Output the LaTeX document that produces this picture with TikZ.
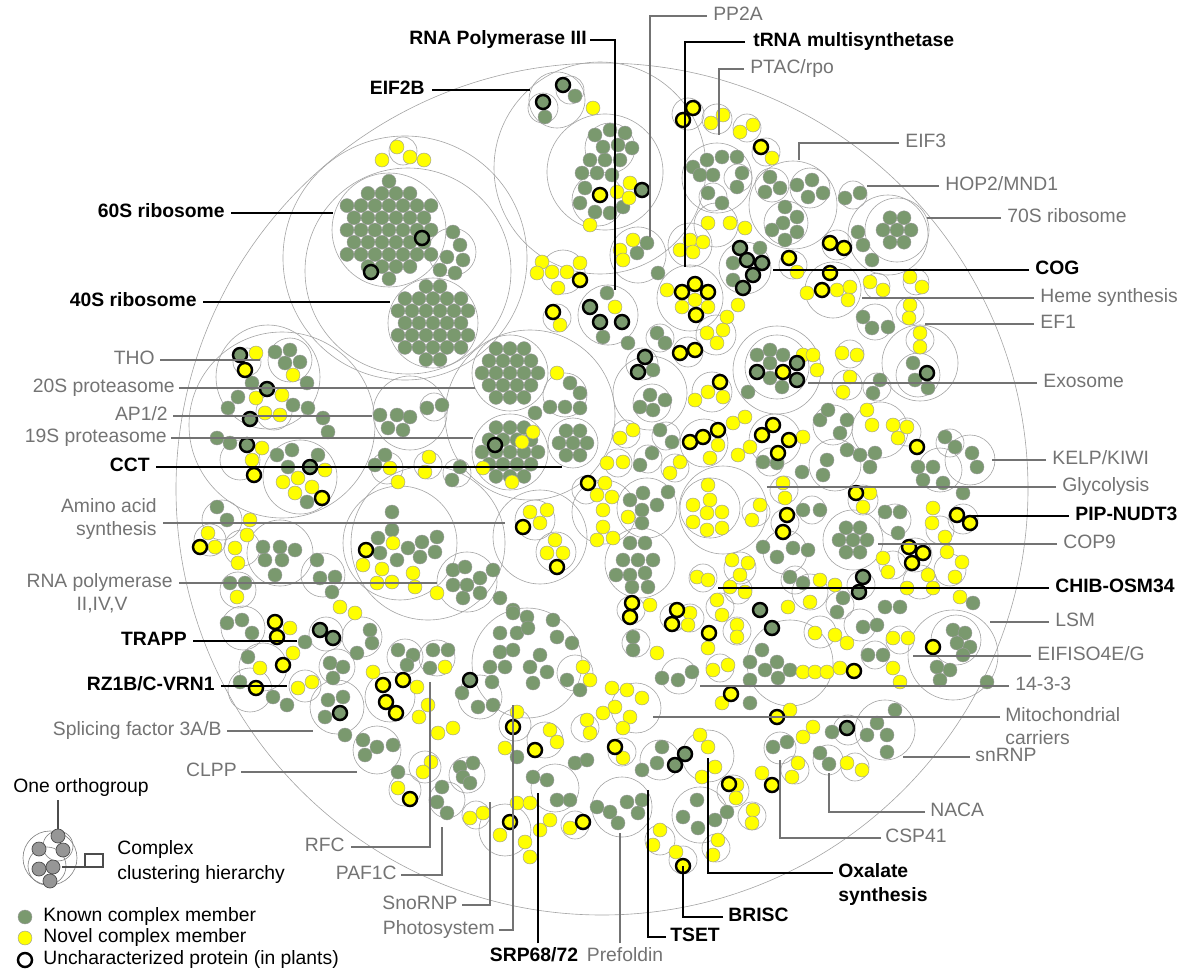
\documentclass[tikz,border=0pt]{standalone}
\usepackage{fontspec}
\setmainfont{Liberation Sans}
\definecolor{kg}{RGB}{122,153,110}
\definecolor{ky}{RGB}{255,255,0}
\definecolor{lg}{RGB}{115,115,115}
\definecolor{cg}{RGB}{165,165,165}
\definecolor{lgd}{RGB}{150,150,150}
\tikzset{
 gd/.style={fill=kg,draw=gray!80,line width=0.25pt},
 yd/.style={fill=ky,draw=gray!80,line width=0.25pt},
 ugd/.style={fill=kg,draw=black,line width=1.4pt},
 uyd/.style={fill=ky,draw=black,line width=1.4pt},
 cl/.style={draw=cg,line width=0.35pt},
 bl/.style={draw=black,line width=0.85pt},
 gl/.style={draw=lg,line width=0.75pt},
 bt/.style={font=\fontsize{11}{13}\selectfont\bfseries,text=black,inner sep=0pt},
 gt/.style={font=\fontsize{11}{13}\selectfont,text=lg,inner sep=0pt},
 lt/.style={font=\fontsize{11}{13}\selectfont,text=black,inner sep=0pt},
}
\newcommand\putg[1]{\foreach \x/\y in {#1}{\filldraw[gd] (\x,\y) circle[radius=0.14cm];}}
\newcommand\puty[1]{\foreach \x/\y in {#1}{\filldraw[yd] (\x,\y) circle[radius=0.14cm];}}
\newcommand\putG[1]{\foreach \x/\y in {#1}{\filldraw[ugd] (\x,\y) circle[radius=0.14cm];}}
\newcommand\putY[1]{\foreach \x/\y in {#1}{\filldraw[uyd] (\x,\y) circle[radius=0.14cm];}}
\newcommand\putc[1]{\foreach \x/\y/\r in {#1}{\draw[cl] (\x,\y) circle[radius=\r*0.02cm];}}
\newcommand\hexg[3]{%
\foreach \i in {-5,...,5}{\foreach \j in {-5,...,5}{%
\pgfmathsetmacro\hx{#1+14*\i+7*abs(mod(\j,2))}%
\pgfmathsetmacro\hy{#2+12.2*\j}%
\pgfmathtruncatemacro\inn{((\hx-#1)^2+(\hy-#2)^2)<=((#3)^2)}%
\ifnum\inn=1 \filldraw[gd] (\hx,\hy) circle[radius=0.14cm];\fi}}}
\begin{document}
\begin{tikzpicture}[x=0.02cm,y=-0.02cm]
\useasboundingbox (0,0) rectangle (1194,970);
% outer circle
\draw[cl] (602,489) circle[radius=426*0.02cm];
% cluster outlines
\putc{405/258/122, 408/271/103, 389/230/57, 433/323/45, 452/252/24, 403/151/14,
600/168/106, 557/100/28, 570/90/14, 543/108/15, 605/172/58, 610/148/25, 598/200/26,
688/114/16, 717/119/15, 747/128/14, 766/152/14, 717/178/35, 738/178/14, 713/197/14,
793/205/44, 772/185/17, 810/188/20, 786/223/22, 853/195/14, 897/230/32, 888/235/40, 837/245/15, 793/265/14, 745/268/26, 833/290/28, 877/286/13, 916/282/13, 910/311/14, 875/322/18, 920/340/14,
690/298/33, 716/225/22, 690/245/22, 638/255/28, 608/315/30, 716/335/20, 688/352/15, 660/338/14,
777/370/44, 777/367/32, 920/363/38, 918/375/22, 850/354/14, 847/385/15, 877/387/14,
704/443/24, 775/440/26, 712/392/20, 642/364/16, 650/393/37, 652/403/19,
723/510/44, 710/508/30, 756/512/14, 784/490/14, 785/523/14, 863/500/15, 970/460/25, 963/519/15, 853/540/30, 915/555/17, 861/585/14,
282/425/93, 268/377/52, 300/477/37, 247/362/14, 274/412/18, 290/360/22,
530/415/85, 510/373/38, 510/452/38, 573/443/25, 565/395/22, 410/413/37, 434/407/14,
387/468/16, 428/465/14, 457/473/14, 240/460/20,
428/543/77, 400/543/57, 280/553/33, 323/575/22, 467/582/30, 540/537/47, 535/520/20, 556/552/20, 586/490/14,
222/520/20, 210/540/16, 242/548/18, 238/590/18,
243/628/22, 326/634/17, 263/667/24, 250/690/22, 305/686/16, 337/707/27, 377/750/24, 390/697/25, 447/800/18, 425/767/16, 405/790/16,
362/637/20, 337/667/18, 405/657/18, 437/658/18,
527/663/55, 480/697/22, 515/725/16, 545/740/18, 555/788/24, 467/775/18, 505/830/26, 575/825/14, 476/815/14, 585/728/14, 575/673/18,
790/663/43, 953/655/45, 956/640/25, 885/730/30, 848/730/15, 828/760/15, 780/748/16, 855/767/14, 795/770/14,
622/807/30, 700/815/28, 683/860/14, 660/840/15, 733/791/16, 752/816/14, 716/848/14,
640/563/35, 647/508/30, 604/512/32, 618/463/14, 626/434/14, 666/436/14, 648/459/14, 675/468/14,
636/708/25, 622/752/14, 660/760/20, 708/756/26, 679/676/18, 720/668/14, 737/631/14, 690/618/14, 674/617/14, 631/610/14, 636/643/14,
860/625/16, 875/655/14, 820/632/16, 900/640/14,
940/470/22, 950/443/14,
895/520/16, 940/530/14, 950/570/16, 920/582/17, 893/565/14,
810/592/18, 840/605/14, 795/580/14, 740/568/16, 703/578/14, 720/607/14, 738/590/14,
835/465/26, 833/425/20, 880/430/28, 907/432/14,
770/462/14, 812/510/14, 785/552/22, 557/318/14, 563/272/22}
% hex clusters
\hexg{389}{230}{49}
\hexg{433}{323}{38}
\hexg{897}{230}{24}
\hexg{853}{540}{22}
\hexg{510}{373}{33}
\hexg{510}{452}{33}
\hexg{573}{443}{19}
% green dots
\putg{453/232, 460/245, 447/257, 463/260, 440/270, 455/273, 575/96, 545/117,
595/135, 610/130, 625/133, 603/147, 618/145, 632/148, 590/160, 605/160, 620/160, 582/173, 597/173, 612/175, 585/188, 580/203, 595/212, 610/213, 623/207,
693/167, 707/160, 722/157, 737/157, 700/175, 713/175, 742/173, 737/187, 708/193, 722/203,
770/177, 765/192, 780/188, 797/185, 812/180, 823/193, 808/197, 785/207, 797/217, 783/223, 797/232, 772/230, 785/240,
845/198, 860/193, 858/232, 863/245, 872/260, 733/263, 733/280, 760/248,
863/317, 872/328, 888/327, 607/293, 603/337, 628/343, 647/243, 637/253, 658/273, 657/333, 665/343,
757/355, 770/350, 783/355, 770/363, 770/378, 782/387, 748/392, 913/363, 915/380, 928/388, 880/380, 873/393, 653/370,
640/407, 650/395, 665/400, 653/410, 945/437, 955/447, 972/453, 977/467, 963/493,
918/467, 933/467, 923/480, 943/483, 885/512, 900/512, 898/533, 763/462, 777/463, 803/510, 820/510, 763/547, 777/557, 793/548, 808/550,
802/472, 823/475, 827/460, 847/450, 860/455, 875/453, 870/467, 820/420, 828/410, 847/420, 840/433,
660/430, 672/442, 640/465, 652/453, 668/492, 885/607, 900/607, 973/603, 790/577, 803/583, 843/598, 837/612,
630/500, 643/493, 642/510, 642/523, 657/505,
630/543, 645/543, 623/560, 638/560, 653/560, 630/575, 645/573, 632/587, 648/587, 616/575,
570/383, 580/393, 550/407, 565/407, 580/408, 535/413,
275/352, 290/350, 285/363, 300/362, 307/383, 252/383, 238/397, 228/408, 293/405, 308/408, 323/418, 328/432,
380/415, 397/415, 410/417, 388/428, 403/430, 427/408, 442/405, 217/438, 230/443,
277/455, 292/450, 318/455, 288/467, 307/502, 375/465, 385/455, 460/467, 452/480, 217/507, 227/520,
263/547, 280/547, 295/550, 265/560, 282/560, 275/575, 317/560, 320/578, 335/577, 332/592, 230/583, 245/583,
392/512, 392/530, 378/538, 380/553, 397/560, 408/548, 422/542, 437/537, 435/552, 420/557,
453/570, 465/567, 480/578, 453/585, 467/585, 480/593, 463/598, 493/570, 513/610, 500/598,
227/623, 242/620, 252/633, 305/642, 248/657, 240/682, 273/697, 287/705, 328/700, 343/697, 325/717, 345/735, 363/740, 377/747, 393/745, 365/755, 398/772, 442/787, 437/802, 447/813,
370/630, 372/643, 357/653, 330/663, 343/667, 333/678, 398/650, 413/655, 407/665, 433/650, 448/650, 430/668,
513/613, 527/617, 500/633, 517/633, 528/628, 500/652, 513/650, 490/667, 505/667, 492/682, 530/667, 540/655, 547/672, 533/683, 553/620, 557/637, 572/643,
462/693, 478/707, 493/705, 533/777, 547/780, 557/800, 570/800, 460/767, 473/763, 463/777, 470/783, 517/757, 567/680, 580/690, 575/763, 587/760,
762/650, 777/662, 790/670, 750/662, 765/670, 778/678, 750/680, 953/630, 965/633, 957/643, 970/647, 963/655, 937/667, 950/670, 940/680, 987/682,
895/710, 877/723, 887/735, 867/735, 887/752, 832/732, 820/753, 829/764, 773/747, 787/742,
683/817, 698/828, 715/820, 727/812, 697/800, 597/807, 610/812, 627/802, 642/800, 618/823, 638/813,
662/747, 642/770, 657/763, 662/678, 678/680, 692/672, 633/637, 633/650, 863/627, 877/625, 868/655, 883/655, 750/703}
% yellow dots
\puty{382/160, 397/147, 410/157, 424/160, 593/108, 617/192, 630/183, 629/198, 590/225,
711/123, 723/115, 740/132, 753/125, 772/158, 797/272, 837/290, 850/287, 848/300, 807/293,
870/282, 883/290, 910/277, 922/287, 910/305, 909/318, 920/333, 920/347,
667/290, 695/300, 682/307, 708/307, 708/223, 730/223, 745/228, 690/240, 703/242, 680/250, 693/252,
620/250, 633/240, 623/260, 615/307, 707/333, 723/330, 717/343, 727/317, 738/305,
803/355, 813/355, 817/370, 842/353, 857/355, 850/377, 843/392, 718/445, 710/458, 733/423, 745/417,
803/437, 738/455, 750/447, 708/392, 695/400, 723/397,
708/485, 693/505, 710/500, 722/512, 707/513, 693/522, 707/530, 722/528, 760/505, 752/520, 783/483, 785/498,
870/493, 863/507, 867/410, 872/425, 893/425, 907/427, 898/438,
933/508, 932/523, 945/537, 947/552, 962/562, 955/577, 883/558, 888/572, 907/588, 933/588, 928/575, 960/597,
820/580, 835/585, 810/602, 788/607, 732/560, 748/563, 740/575, 697/577, 708/580, 717/600, 722/615, 730/587, 745/592,
620/438, 633/430, 607/463, 623/462, 670/473, 680/462, 605/483, 612/497, 597/495, 603/510, 603/527, 613/538, 597/540, 628/517,
256/353, 293/375, 282/395, 256/398, 265/413, 280/415, 262/448, 252/460, 325/470, 283/482, 298/478, 312/487, 295/493,
390/468, 398/482, 429/457, 425/472, 522/442, 533/432, 483/468, 512/482, 557/373,
250/520, 247/535, 208/533, 215/547, 235/548, 238/563,
393/543, 363/565, 382/569, 377/583, 392/582, 413/573, 415/587, 437/593, 237/597,
530/512, 547/510, 540/523, 555/540, 547/553, 563/553, 340/607, 355/613,
290/628, 260/668, 293/653, 298/688, 312/682, 373/672, 417/687, 428/705, 419/717, 438/733, 453/728, 431/762, 423/772, 398/788, 445/667,
517/712, 550/730, 557/742, 505/748, 500/835, 517/803, 530/803, 540/830, 525/842, 530/857, 570/828, 550/820, 470/818, 483/813,
583/667, 590/680, 587/720, 590/733, 542/262, 537/273, 552/272, 558/288, 567/272, 580/263, 560/325,
650/605, 690/613, 688/625, 708/648, 803/672, 815/672, 827/672, 840/668, 893/668, 900/682, 803/737, 813/727, 847/763, 862/770, 798/763, 792/777, 762/773, 737/785, 736/798, 753/810, 752/823, 718/840, 713/855, 676/852, 660/830, 653/845,
700/735, 708/747, 715/767, 702/777, 623/758, 790/710, 722/703, 612/688, 627/690, 642/698, 615/707, 630/717, 603/713, 623/728, 657/653, 713/670, 728/665, 737/625, 737/637,
815/633, 835/635, 847/643, 893/638, 908/638}
% uncharacterized
\putG{422/238, 371/272, 563/85, 543/102, 642/190, 740/248, 747/260, 762/263, 753/275, 743/288, 590/307, 600/322, 622/322, 645/357, 638/372, 757/372, 797/363, 797/380, 927/373, 863/577, 859/592, 240/355, 267/389, 250/419, 247/445, 310/467, 495/445, 320/630, 333/638, 340/713, 470/680, 760/610, 772/628, 847/728, 685/754, 675/765}
\putY{693/108, 683/120, 761/147, 830/243, 844/248, 789/258, 830/273, 822/290, 682/292, 695/284, 708/292, 696/315, 600/195, 680/353, 695/350, 783/372, 690/442, 703/437, 718/430, 762/435, 773/425, 789/440, 778/453, 720/382, 787/515, 783/532, 856/493, 957/515, 970/523, 909/547, 923/553, 912/563, 917/447, 245/370, 254/475, 322/498, 200/547, 366/550, 523/527, 557/567, 588/483, 275/622, 277/637, 283/665, 256/688, 383/685, 386/702, 396/713, 403/680, 410/799, 513/727, 535/750, 510/822, 583/822, 580/280, 553/312, 632/603, 630/617, 677/610, 672/624, 709/633, 854/671, 933/647, 772/785, 729/784, 683/866, 615/747, 777/717, 731/694}
% ---- labels left
\node[bt,anchor=mid east] (l60s) at (225,213) {60S ribosome};
\draw[bl] (l60s.mid east) ++(6,0) -- (333,213);
\node[bt,anchor=mid east] (l40s) at (197,302) {40S ribosome};
\draw[bl] (l40s.mid east) ++(6,0) -- (390,302);
\node[gt,anchor=mid east] (ltho) at (155,360) {THO};
\draw[gl] (ltho.mid east) ++(5,0) -- (260,360);
\node[gt,anchor=mid east] (l20s) at (175,388) {20S proteasome};
\draw[gl] (l20s.mid east) ++(4,0) -- (475,388);
\node[gt,anchor=mid east] (lap) at (168,416) {AP1/2};
\draw[gl] (lap.mid east) ++(5,0) -- (372,416);
\node[gt,anchor=mid east] (l19s) at (167,438) {19S proteasome};
\draw[gl] (l19s.mid east) ++(4,0) -- (473,438);
\node[bt,anchor=mid east] (lcct) at (150,467) {CCT};
\draw[bl] (lcct.mid east) ++(6,0) -- (562,467);
\node[gt,anchor=mid east] (laa1) at (157,508) {Amino acid};
\node[gt,anchor=mid east] (laa2) at (157,531) {synthesis};
\draw[gl] (laa2.east |- 0,523) ++(6,0) -- (505,523);
\node[gt,anchor=mid east] (lrna1) at (173,583) {RNA polymerase};
\node[gt,anchor=mid] (lrna2) at (102,606) {II,IV,V};
\draw[gl] (lrna1.mid east) ++(6,0) -- (437,583);
\node[bt,anchor=mid east] (ltrapp) at (187,641) {TRAPP};
\draw[bl] (ltrapp.mid east) ++(6,0) -- (297,641);
\node[bt,anchor=mid east] (lrz) at (215,686) {RZ1B/C-VRN1};
\draw[bl] (lrz.mid east) ++(6,0) -- (287,686);
\node[gt,anchor=mid east] (lsf) at (222,731) {Splicing factor 3A/B};
\draw[gl] (lsf.mid east) ++(5,0) -- (313,731);
\node[gt,anchor=mid east] (lclpp) at (237,772) {CLPP};
\draw[gl] (lclpp.mid east) ++(4,0) -- (357,772);
% ---- labels bottom
\node[gt,anchor=mid east] (lrfc) at (345,847) {RFC};
\draw[gl] (lrfc.mid east) ++(6,0) -| (430,682);
\node[gt,anchor=mid east] (lpaf) at (397,875) {PAF1C};
\draw[gl] (lpaf.mid east) ++(4,0) -| (442,827);
\node[gt,anchor=mid east] (lsno) at (458,905) {SnoRNP};
\draw[gl] (lsno.mid east) ++(4,0) -| (490,802);
\node[gt,anchor=mid east] (lphot) at (495,930) {Photosystem};
\draw[gl] (lphot.mid east) ++(4,0) -| (513,705);
\node[bt,anchor=mid] (lsrp) at (534,957) {SRP68/72};
\draw[bl] (lsrp.north -| 538,0) ++(0,-4) -- (538,793);
\node[gt,anchor=mid] (lpre) at (625,957) {Prefoldin};
\draw[gl] (lpre.north -| 620,0) ++(0,-4) -- (620,833);
\node[bt,anchor=mid west] (ltset) at (670,937) {TSET};
\draw[bl] (ltset.mid west) ++(-4,0) -| (648,790);
\node[bt,anchor=mid west] (lbrisc) at (728,917) {BRISC};
\draw[bl] (lbrisc.mid west) ++(-5,0) -| (683,866);
\node[bt,anchor=mid west] (lox1) at (838,873) {Oxalate};
\node[bt,anchor=mid west] (lox2) at (838,897) {synthesis};
\draw[bl] (lox1.mid west) ++(-5,0) -| (708,758);
\node[gt,anchor=mid west] (lcsp) at (885,838) {CSP41};
\draw[gl] (lcsp.mid west) ++(-4,0) -| (780,760);
\node[gt,anchor=mid west] (lnaca) at (930,812) {NACA};
\draw[gl] (lnaca.mid west) ++(-5,0) -| (829,773);
% ---- labels right
\node[gt,anchor=mid west] (lsnrnp) at (975,757) {snRNP};
\draw[gl] (lsnrnp.mid west) ++(-5,0) -- (903,757);
\node[gt,anchor=mid west] (lmito1) at (1005,717) {Mitochondrial};
\node[gt,anchor=mid west] (lmito2) at (1005,740) {carriers};
\draw[gl] (lmito1.mid west) ++(-5,0) -- (653,717);
\node[gt,anchor=mid west] (l1433) at (1015,686) {14-3-3};
\draw[gl] (l1433.mid west) ++(-6,0) -- (700,686);
\node[gt,anchor=mid west] (leif4) at (1037,656) {EIFISO4E/G};
\draw[gl] (leif4.mid west) ++(-6,0) -- (913,656);
\node[gt,anchor=mid west] (llsm) at (1055,622) {LSM};
\draw[gl] (llsm.mid west) ++(-6,0) -- (990,622);
\node[bt,anchor=mid west] (lchib) at (1055,588) {CHIB-OSM34};
\draw[bl] (lchib.mid west) ++(-6,0) -- (718,588);
\node[gt,anchor=mid west] (lcop) at (1063,544) {COP9};
\draw[gl] (lcop.mid west) ++(-6,0) -- (878,544);
\node[bt,anchor=mid west] (lpip) at (1075,516) {PIP-NUDT3};
\draw[bl] (lpip.mid west) ++(-6,0) -- (970,516);
\node[gt,anchor=mid west] (lgly) at (1062,487) {Glycolysis};
\draw[gl] (lgly.mid west) ++(-6,0) -- (767,487);
\node[gt,anchor=mid west] (lkelp) at (1052,460) {KELP/KIWI};
\draw[gl] (lkelp.mid west) ++(-6,0) -- (992,460);
\node[gt,anchor=mid west] (lexo) at (1043,383) {Exosome};
\draw[gl] (lexo.mid west) ++(-6,0) -- (808,383);
\node[gt,anchor=mid west] (lef1) at (1040,324) {EF1};
\draw[gl] (lef1.mid west) ++(-6,0) -- (925,324);
\node[gt,anchor=mid west] (lheme) at (1040,298) {Heme synthesis};
\draw[gl] (lheme.mid west) ++(-6,0) -- (862,298);
\node[bt,anchor=mid west] (lcog) at (1035,270) {COG};
\draw[bl] (lcog.mid west) ++(-6,0) -- (773,270);
\node[gt,anchor=mid west] (l70s) at (1007,218) {70S ribosome};
\draw[gl] (l70s.mid west) ++(-6,0) -- (927,218);
\node[gt,anchor=mid west] (lhop) at (945,186) {HOP2/MND1};
\draw[gl] (lhop.mid west) ++(-6,0) -- (867,186);
\node[gt,anchor=mid west] (leif3) at (905,143) {EIF3};
\draw[gl] (leif3.mid west) ++(-6,0) -| (799,160);
% ---- labels top
\node[gt,anchor=mid west] (lptac) at (750,69) {PTAC/rpo};
\draw[gl] (lptac.mid west) ++(-6,0) -| (719,135);
\node[bt,anchor=mid west] (ltrna) at (753,42) {tRNA multisynthetase};
\draw[bl] (ltrna.mid west) ++(-8,0) -| (685,267);
\node[gt,anchor=mid west] (lpp2a) at (713,16) {PP2A};
\draw[gl] (lpp2a.mid west) ++(-6,0) -| (650,237);
\node[bt,anchor=mid east] (lrnap3) at (587,40) {RNA Polymerase III};
\draw[bl] (lrnap3.mid east) ++(3,0) -| (615,290);
\node[bt,anchor=mid east] (leif2b) at (425,90) {EIF2B};
\draw[bl] (leif2b.mid east) ++(7,0) -- (530,90);
% ---- legend
\node[lt,anchor=mid west] (lorth) at (13,788) {One orthogroup};
\draw[draw=black!70,line width=0.7pt] (lorth.south -| 58,0) ++(0,3) -- (58,830);
\draw[cl,draw=gray] (50,858) circle[radius=27*0.02cm];
\draw[cl,draw=gray] (58,846) circle[radius=15*0.02cm];
\draw[cl,draw=gray] (47,866) circle[radius=19*0.02cm];
\foreach \x/\y in {58/836, 63/850, 39/849, 39/869, 53/867, 50/881}{\filldraw[fill=lgd,draw=gray!60!black,line width=0.4pt] (\x,\y) circle[radius=0.14cm];}
\draw[draw=black!70,line width=0.7pt] (62,867) -- (103,867) -- (103,854) -- (85,854) -- (85,867);
\node[lt,anchor=mid west] (lcx1) at (117,850) {Complex};
\node[lt,anchor=mid west] (lcx2) at (117,875) {clustering hierarchy};
\filldraw[gd] (25,917) circle[radius=0.14cm];
\filldraw[yd] (25,938) circle[radius=0.14cm];
\filldraw[fill=white,draw=black,line width=1.4pt] (25,960) circle[radius=0.14cm];
\node[lt,anchor=mid west] (lkn) at (43,917) {Known complex member};
\node[lt,anchor=mid west] (lnv) at (43,938) {Novel complex member};
\node[lt,anchor=mid west] (lun) at (43,960) {Uncharacterized protein (in plants)};
\end{tikzpicture}
\end{document}
